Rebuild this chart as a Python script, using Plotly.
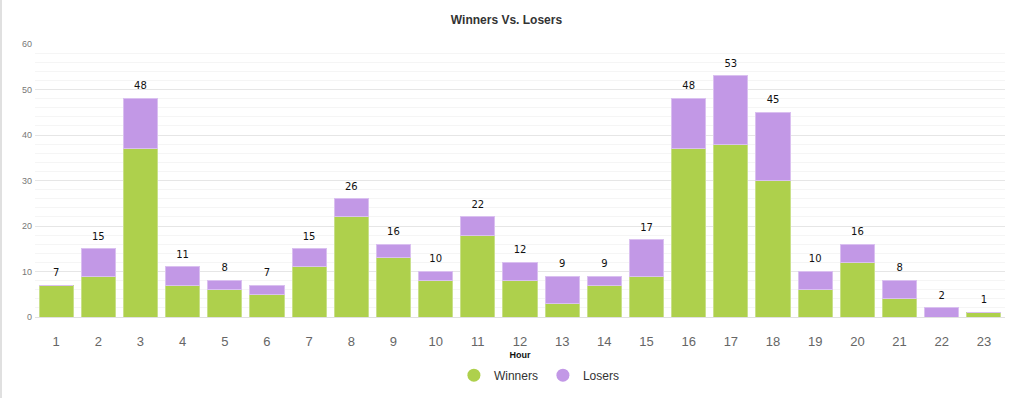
import plotly.graph_objects as go

hours = [str(h) for h in range(1, 24)]
winners = [7, 9, 37, 7, 6, 5, 11, 22, 13, 8, 18, 8, 3, 7, 9, 37, 38, 30, 6, 12, 4, 0, 1]
losers = [0, 6, 11, 4, 2, 2, 4, 4, 3, 2, 4, 4, 6, 2, 8, 11, 15, 15, 4, 4, 4, 2, 0]
totals = [w + l for w, l in zip(winners, losers)]

GREEN = "#aed04c"
PURPLE = "#c298e6"

fig = go.Figure()
fig.add_trace(go.Bar(x=hours, y=winners, name="Winners", marker=dict(color=GREEN, line=dict(color="#c9e08a", width=1)), showlegend=False))
fig.add_trace(go.Bar(x=hours, y=losers, name="Losers", marker=dict(color=PURPLE, line=dict(color="#dac0f0", width=1)), showlegend=False))
fig.add_trace(go.Scatter(x=hours, y=totals, mode="markers+text", text=[str(t) for t in totals],
                         textposition="top center", textfont=dict(family="DejaVu Sans", size=10, color="#111"),
                         marker=dict(size=9, color="rgba(0,0,0,0)"),
                         showlegend=False, hoverinfo="skip", cliponaxis=False))
fig.add_trace(go.Scatter(x=[hours[0]], y=[None], mode="markers", name="Winners",
                         marker=dict(color=GREEN, size=13, symbol="circle")))
fig.add_trace(go.Scatter(x=[hours[0]], y=[None], mode="markers", name="Losers",
                         marker=dict(color=PURPLE, size=13, symbol="circle")))

fig.update_layout(
    barmode="stack",
    bargap=0.19,
    width=1013, height=398,
    margin=dict(l=35, r=8, t=44, b=81, autoexpand=False),
    plot_bgcolor="white", paper_bgcolor="white",
    font=dict(family="Liberation Sans, Arial, sans-serif", color="#555"),
    title=dict(text="<b>Winners Vs. Losers</b>", x=0.5, xanchor="center", y=1 - 20 / 398, yanchor="middle",
               font=dict(size=12, color="#333")),
    legend=dict(orientation="h", x=0.52, xanchor="center", y=-0.16, yanchor="top", traceorder="normal",
                font=dict(size=12, color="#333")),
    xaxis=dict(type="category", categoryorder="array", categoryarray=hours,
               range=[-0.5, len(hours) - 0.5],
               tickfont=dict(size=13, color="#666"), showgrid=False, automargin=False,
               showline=True, linecolor="#e0e0e0", ticks="", ticklabelstandoff=12,
               title=dict(text="<b>Hour</b>", font=dict(size=9, color="#111"), standoff=4)),
    yaxis=dict(range=[0, 60], dtick=10, tickfont=dict(size=9, color="#777"), automargin=False,
               gridcolor="#e6e6e6", zeroline=False, ticklabelstandoff=2,
               minor=dict(dtick=2, showgrid=True, gridcolor="#f5f5f5")),
    shapes=[dict(type="line", xref="paper", yref="paper", x0=-34 / 970, x1=-34 / 970, y0=-0.35, y1=1.2,
                 line=dict(color="#e0e0e0", width=2))],
)

fig.write_html("out.html", config={"displayModeBar": False},
               post_script="document.body.style.margin='0';")
